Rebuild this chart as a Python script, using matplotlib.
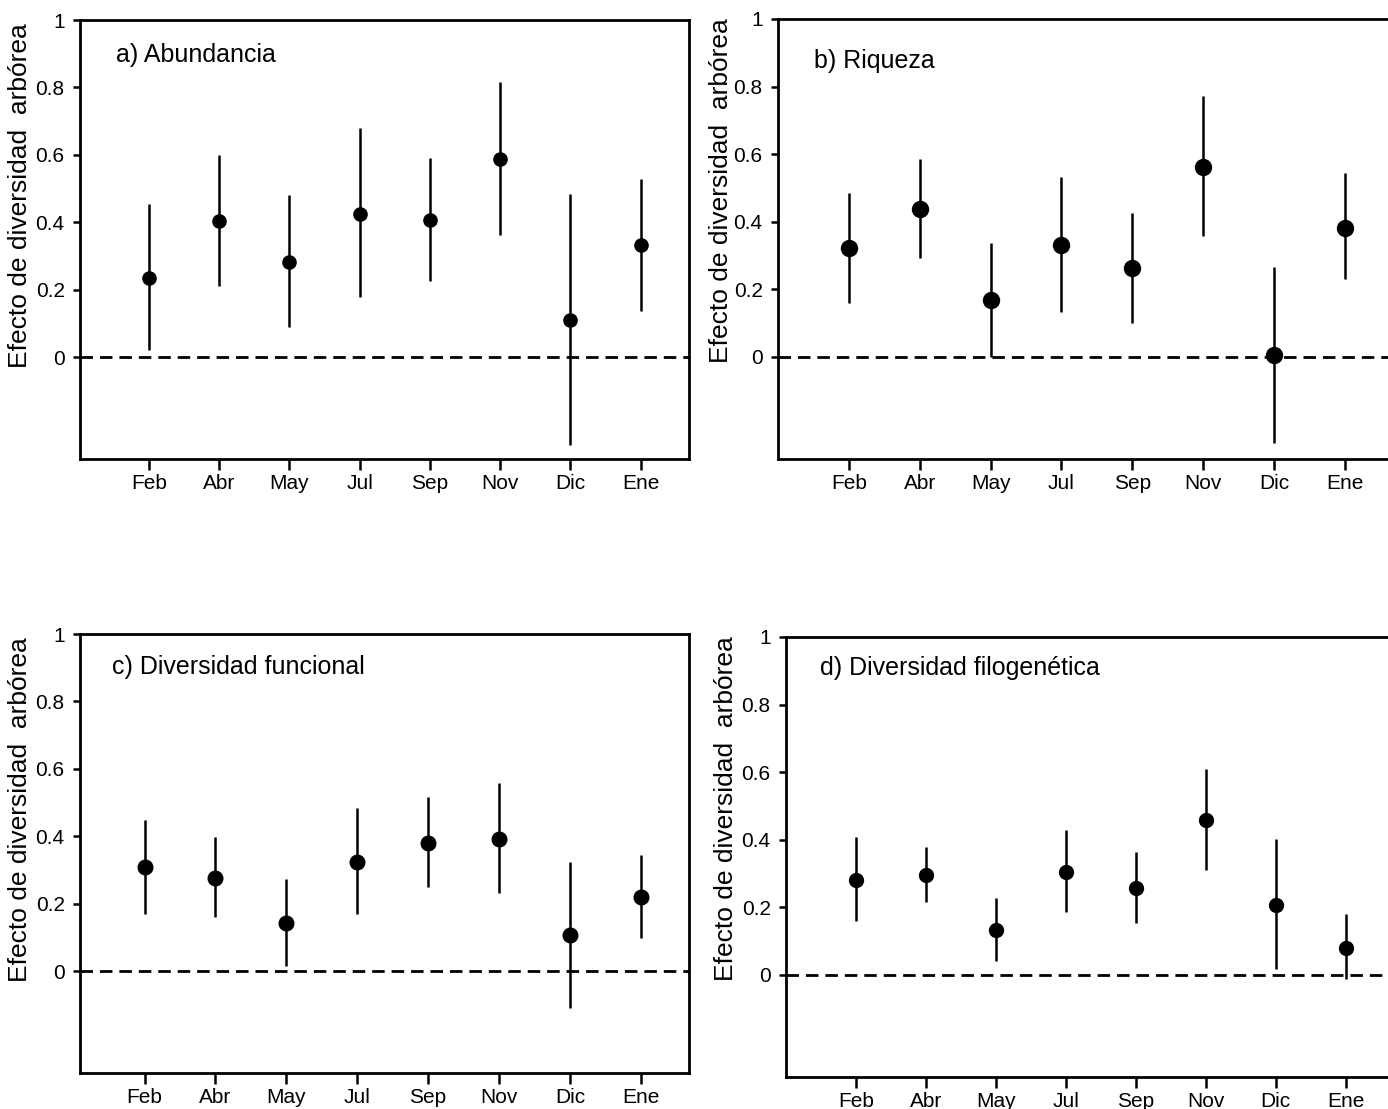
import numpy as np
import matplotlib
matplotlib.use("Agg")
import matplotlib.pyplot as plt

meses = ["Feb", "Abr", "May", "Jul", "Sep", "Nov", "Dic", "Ene"]

# a) Abundancia
abund_media = [0.235, 0.404, 0.283, 0.424, 0.406, 0.589, 0.110, 0.332]
abund_inf = [0.021, 0.211, 0.090, 0.179, 0.226, 0.362, -0.259, 0.137]
abund_sup = [0.454, 0.601, 0.481, 0.679, 0.592, 0.817, 0.484, 0.529]

# b) Riqueza
riq_media = [0.321, 0.438, 0.169, 0.331, 0.262, 0.563, 0.005, 0.383]
riq_inf = [0.161, 0.292, 0.000, 0.132, 0.100, 0.359, -0.255, 0.230]
riq_sup = [0.484, 0.586, 0.338, 0.533, 0.425, 0.772, 0.266, 0.545]

# c) Diversidad funcional
func_media = [0.309, 0.276, 0.144, 0.325, 0.381, 0.393, 0.107, 0.220]
func_inf = [0.171, 0.161, 0.016, 0.169, 0.250, 0.233, -0.110, 0.098]
func_sup = [0.448, 0.398, 0.274, 0.485, 0.516, 0.558, 0.325, 0.346]

# d) Diversidad filogenetica
filo_media = [0.282, 0.295, 0.133, 0.304, 0.256, 0.459, 0.208, 0.081]
filo_inf = [0.161, 0.215, 0.041, 0.186, 0.154, 0.312, 0.017, -0.013]
filo_sup = [0.408, 0.378, 0.229, 0.428, 0.363, 0.610, 0.402, 0.179]

W, H = 1388, 1109
fig = plt.figure(figsize=(W / 100, H / 100), dpi=100)

fuente = ["Liberation Sans", "DejaVu Sans"]
ylab = "Efecto de diversidad  arbórea"


def px_axes(left, top, right, bottom):
    return fig.add_axes([left / W, 1 - bottom / H, (right - left) / W, (bottom - top) / H])


paneles = [
    # (caja en px), xlim, titulo, datos, tamaño marcador, pos titulo, pos ylabel
    ((80, 20, 689, 459), (0.02, 8.69), "a) Abundancia",
     (abund_media, abund_inf, abund_sup), 9.5, (0.059, 0.92), (-0.079, 0.60)),
    ((778, 19, 1398, 459), (0.0, 8.75), "b) Riqueza",
     (riq_media, riq_inf, riq_sup), 11.5, (0.058, 0.905), (-0.073, 0.61)),
    ((80, 634, 689, 1073), (0.09, 8.68), "c) Diversidad funcional",
     (func_media, func_inf, func_sup), 10.5, (0.053, 0.925), (-0.079, 0.60)),
    ((786, 637, 1398, 1077), (0.0, 8.75), "d) Diversidad filogenética",
     (filo_media, filo_inf, filo_sup), 10, (0.055, 0.93), (-0.078, 0.61)),
]

x = np.arange(1, len(meses) + 1)

for caja, xlim, titulo, (media, inf, sup), ms, tpos, lpos in paneles:
    ax = px_axes(*caja)
    media = np.array(media)
    err = [media - np.array(inf), np.array(sup) - media]
    ax.axhline(0, color="black", lw=2, dashes=(4.5, 2.5), zorder=1)
    ax.errorbar(x, media, yerr=err, fmt="o", color="black", ms=ms,
                elinewidth=1.8, capsize=0, zorder=3)
    ax.set_xlim(*xlim)
    ax.set_ylim(-0.302, 1.0)
    ax.set_xticks(x)
    ax.set_xticklabels(meses, family=fuente, fontsize=15)
    ax.set_yticks([0, 0.2, 0.4, 0.6, 0.8, 1.0])
    ax.set_yticklabels(["0", "0.2", "0.4", "0.6", "0.8", "1"], family=fuente, fontsize=15)
    ax.tick_params(axis="both", direction="out", width=1.8, color="black")
    ax.tick_params(axis="y", length=5, pad=6)
    ax.tick_params(axis="x", length=8, pad=3)
    for s in ax.spines.values():
        s.set_linewidth(2)
    ax.set_ylabel(ylab, fontsize=19, family=fuente)
    ax.yaxis.set_label_coords(*lpos)
    ax.text(tpos[0], tpos[1], titulo, transform=ax.transAxes, fontsize=18,
            family=fuente, ha="left", va="center")

fig.savefig("out.png", dpi=100)
